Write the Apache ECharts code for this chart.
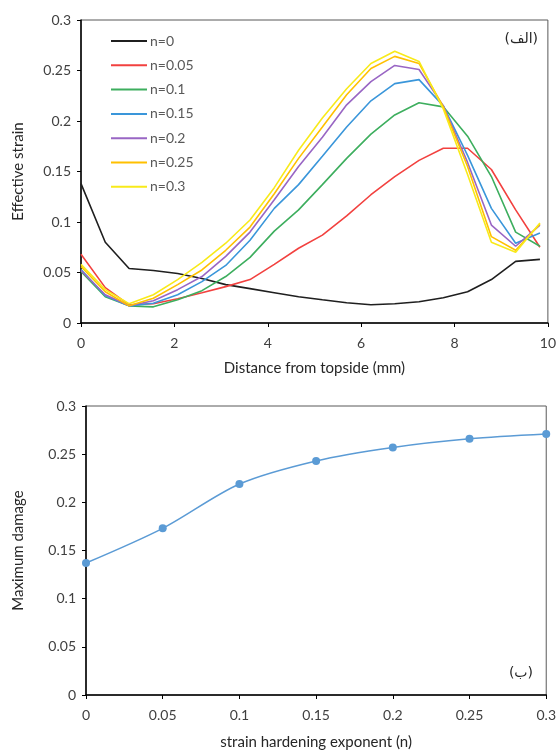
<!DOCTYPE html>
<html>
<head>
<meta charset="utf-8">
<script src="https://cdn.jsdelivr.net/npm/echarts@6/dist/echarts.min.js"></script>
<style>
html,body{margin:0;padding:0;background:#fff;}
#c{width:559px;height:751px;}
</style>
</head>
<body>
<div id="c"></div>
<script>
// ---- Top chart: effective strain vs distance ----
const distance = [0, 0.52, 1.03, 1.55, 2.07, 2.59, 3.1, 3.62, 4.14, 4.66, 5.17, 5.69, 6.21, 6.72, 7.24, 7.76, 8.28, 8.79, 9.31, 9.83];
const seriesNames = ['n=0', 'n=0.05', 'n=0.1', 'n=0.15', 'n=0.2', 'n=0.25', 'n=0.3'];
const strain_n0   = [0.138, 0.080, 0.054, 0.052, 0.049, 0.044, 0.038, 0.034, 0.030, 0.026, 0.023, 0.020, 0.018, 0.019, 0.021, 0.025, 0.031, 0.043, 0.061, 0.063];
const strain_n005 = [0.068, 0.035, 0.018, 0.019, 0.024, 0.030, 0.036, 0.043, 0.058, 0.074, 0.087, 0.106, 0.127, 0.145, 0.161, 0.173, 0.173, 0.152, 0.112, 0.075];
const strain_n01  = [0.051, 0.026, 0.017, 0.016, 0.023, 0.032, 0.046, 0.065, 0.091, 0.112, 0.137, 0.163, 0.187, 0.206, 0.218, 0.214, 0.185, 0.145, 0.090, 0.076];
const strain_n015 = [0.053, 0.027, 0.017, 0.0195, 0.028, 0.041, 0.057, 0.082, 0.1135, 0.137, 0.165, 0.194, 0.220, 0.237, 0.241, 0.215, 0.166, 0.1135, 0.079, 0.089];
const strain_n02  = [0.052, 0.028, 0.017, 0.022, 0.033, 0.046, 0.066, 0.090, 0.122, 0.155, 0.184, 0.216, 0.239, 0.255, 0.251, 0.215, 0.159, 0.097, 0.076, 0.097];
const strain_n025 = [0.056, 0.031, 0.017, 0.0245, 0.038, 0.0525, 0.072, 0.095, 0.128, 0.163, 0.194, 0.226, 0.252, 0.264, 0.257, 0.214, 0.155, 0.0855, 0.072, 0.098];
const strain_n03  = [0.058, 0.033, 0.019, 0.028, 0.043, 0.060, 0.079, 0.102, 0.134, 0.171, 0.203, 0.232, 0.257, 0.269, 0.259, 0.212, 0.147, 0.080, 0.070, 0.099];
const strainSeries = [strain_n0, strain_n005, strain_n01, strain_n015, strain_n02, strain_n025, strain_n03];

// ---- Bottom chart: maximum damage vs n ----
const hardeningN = [0, 0.05, 0.1, 0.15, 0.2, 0.25, 0.3];
const maxDamage  = [0.137, 0.173, 0.219, 0.243, 0.257, 0.266, 0.271];

const colors = ['#1f1f1f', '#F2413F', '#3DAE5E', '#3A96DA', '#9966C4', '#FFC000', '#F8EA1A'];
const FONT = 'Lato, "Open Sans", sans-serif';
const labelStyle = {color: '#404040', fontSize: 14, fontFamily: FONT};
const nameStyle = {color: '#262626', fontSize: 15, fontFamily: FONT};

function mainAxis(extra) {
  return Object.assign({
    type: 'value',
    axisLine: {show: true, onZero: false, lineStyle: {color: '#000', width: 1.5}},
    axisTick: {show: true, inside: false, length: 4, lineStyle: {color: '#000', width: 1}},
    axisLabel: Object.assign({margin: 8}, labelStyle),
    splitLine: {show: false},
    nameTextStyle: nameStyle
  }, extra);
}
function overlayAxis(extra) {
  return Object.assign({
    type: 'value',
    axisLine: {show: false},
    axisTick: {show: true, inside: true, length: 4, lineStyle: {color: '#000', width: 1}},
    axisLabel: {show: false},
    splitLine: {show: false}
  }, extra);
}

const topSeries = strainSeries.map((d, i) => ({
  name: seriesNames[i],
  type: 'line',
  xAxisIndex: 0,
  yAxisIndex: 0,
  data: distance.map((x, j) => [x, d[j]]),
  symbol: 'none',
  lineStyle: {color: colors[i], width: 1.6},
  itemStyle: {color: colors[i]},
  z: 2 + i
}));

const option = {
  animation: false,
  backgroundColor: '#fff',
  grid: [
    {left: 81, top: 20, width: 468, height: 303, show: true, borderColor: '#595959', borderWidth: 1},
    {left: 86, top: 406, width: 463, height: 289, show: true, borderColor: '#595959', borderWidth: 1}
  ],
  legend: {
    data: seriesNames.map((n, i) => ({name: n, itemStyle: {color: colors[i]}})),
    orient: 'vertical',
    left: 106,
    top: 29,
    icon: 'rect',
    itemWidth: 36,
    itemHeight: 2,
    itemGap: 10.3,
    textStyle: {color: '#595959', fontSize: 14, lineHeight: 14, fontFamily: FONT, padding: [0, 0, 0, -2]}
  },
  xAxis: [
    mainAxis({gridIndex: 0, min: 0, max: 10, interval: 2, name: 'Distance from topside (mm)', nameLocation: 'middle', nameGap: 38, axisLabel: Object.assign({margin: 13}, labelStyle)}),
    overlayAxis({gridIndex: 0, min: 0, max: 10, interval: 2}),
    mainAxis({gridIndex: 1, min: 0, max: 0.3, interval: 0.05, name: 'strain hardening exponent (n)', nameLocation: 'middle', nameGap: 40, axisLabel: Object.assign({margin: 13}, labelStyle)}),
    overlayAxis({gridIndex: 1, min: 0, max: 0.3, interval: 0.05})
  ],
  yAxis: [
    mainAxis({gridIndex: 0, min: 0, max: 0.3, interval: 0.05, name: 'Effective strain', nameLocation: 'middle', nameGap: 55, axisLabel: Object.assign({margin: 10}, labelStyle)}),
    overlayAxis({gridIndex: 0, min: 0, max: 0.3, interval: 0.05}),
    mainAxis({gridIndex: 1, min: 0, max: 0.3, interval: 0.05, name: 'Maximum damage', nameLocation: 'middle', nameGap: 60, axisLabel: Object.assign({margin: 10}, labelStyle)}),
    overlayAxis({gridIndex: 1, min: 0, max: 0.3, interval: 0.05})
  ],
  series: topSeries.concat([{
    name: 'Maximum damage',
    type: 'line',
    xAxisIndex: 2,
    yAxisIndex: 2,
    data: hardeningN.map((x, j) => [x, maxDamage[j]]),
    smooth: 0.3,
    symbol: 'circle',
    symbolSize: 8,
    clip: false,
    lineStyle: {color: '#5B9BD5', width: 1.5},
    itemStyle: {color: '#5B9BD5'},
    z: 5
  }]),
  graphic: [
    {type: 'text', right: 21, top: 32, style: {text: '(الف)', fill: '#262626', font: '14px "DejaVu Sans", sans-serif'}},
    {type: 'text', right: 26, top: 666, style: {text: '(ب)', fill: '#262626', font: '14px "DejaVu Sans", sans-serif'}}
  ]
};

const chart = echarts.init(document.getElementById('c'), null, {renderer: 'canvas'});
chart.setOption(option);
</script>
</body>
</html>
